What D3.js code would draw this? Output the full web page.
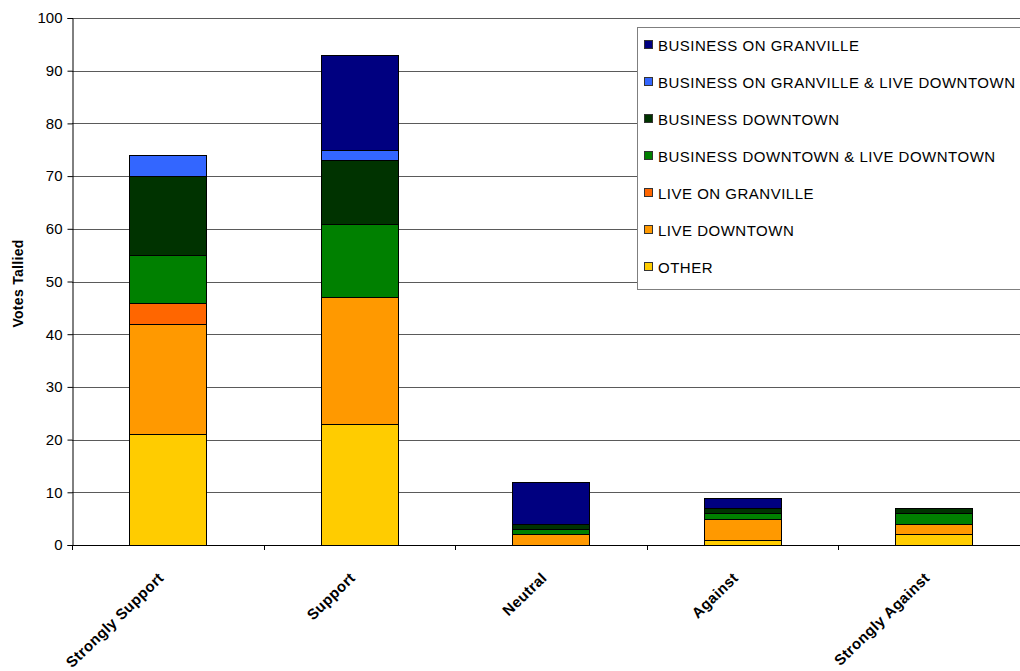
<!DOCTYPE html>
<html>
<head>
<meta charset="utf-8">
<script src="https://cdn.jsdelivr.net/npm/d3@7"></script>
<style>
  html, body { margin: 0; padding: 0; background: #fff; }
  svg { display: block; font-family: "Liberation Sans", Arial, sans-serif; }
</style>
</head>
<body>
<svg id="chart" width="1020" height="671"></svg>
<script>
// Opinion categories along the x axis
const categories = ["Strongly Support", "Support", "Neutral", "Against", "Strongly Against"];

// Respondent groups, stacked bottom to top
const seriesNames = [
  "OTHER",
  "LIVE DOWNTOWN",
  "LIVE ON GRANVILLE",
  "BUSINESS DOWNTOWN & LIVE DOWNTOWN",
  "BUSINESS DOWNTOWN",
  "BUSINESS ON GRANVILLE & LIVE DOWNTOWN",
  "BUSINESS ON GRANVILLE"
];

// Votes per group, one value per category
const other              = [21, 23, 0, 1, 2];
const liveDowntown       = [21, 24, 2, 4, 2];
const liveOnGranville    = [4, 0, 0, 0, 0];
const bizDowntownLive    = [9, 14, 1, 1, 2];
const bizDowntown        = [15, 12, 1, 1, 1];
const bizGranvilleLive   = [4, 2, 0, 0, 0];
const bizGranville       = [0, 18, 8, 2, 0];

const seriesValues = [other, liveDowntown, liveOnGranville, bizDowntownLive, bizDowntown, bizGranvilleLive, bizGranville];

const colors = ["#FFCC00", "#FF9900", "#FF6600", "#008000", "#003300", "#3366FF", "#000080"];

const yTicks = [0, 10, 20, 30, 40, 50, 60, 70, 80, 90, 100];

// Legend lists the groups top of stack first
const legendOrder = [6, 5, 4, 3, 2, 1, 0];

const svg = d3.select("#chart");

const plotLeft = 72, plotTop = 18, plotBottom = 545;
const step = 191.5;

const x = d3.scaleBand()
  .domain(categories)
  .range([plotLeft, plotLeft + step * categories.length])
  .paddingInner(0.6)
  .paddingOuter(0.3);

const y = d3.scaleLinear().domain([0, 100]).range([plotBottom, plotTop]);

// Build stack rows
const rows = categories.map((c, i) => {
  const r = { category: c };
  seriesNames.forEach((s, j) => { r[s] = seriesValues[j][i]; });
  return r;
});
const stacked = d3.stack().keys(seriesNames)(rows);

// Horizontal gridlines
svg.append("g")
  .selectAll("line")
  .data(yTicks.filter(t => t > 0))
  .join("line")
  .attr("x1", plotLeft)
  .attr("x2", 1020)
  .attr("y1", d => Math.round(y(d)) + 0.5)
  .attr("y2", d => Math.round(y(d)) + 0.5)
  .attr("stroke", "#5a5a5a")
  .attr("stroke-width", 1);

// Stacked bars
svg.append("g")
  .selectAll("g")
  .data(stacked)
  .join("g")
  .attr("fill", (d, i) => colors[i])
  .selectAll("rect")
  .data(d => d.filter(p => p[1] - p[0] > 0))
  .join("rect")
  .attr("x", d => Math.round(x(d.data.category)) + 0.5)
  .attr("width", Math.round(x.bandwidth()))
  .attr("y", d => Math.round(y(d[1])) + 0.5)
  .attr("height", d => Math.round(y(d[0])) - Math.round(y(d[1])))
  .attr("stroke", "#000")
  .attr("stroke-width", 1);

// Y axis
const yAxis = d3.axisLeft(y)
  .tickValues(yTicks)
  .tickSize(5)
  .tickPadding(5);
const gy = svg.append("g")
  .attr("transform", `translate(${plotLeft + 0.5},0)`)
  .call(yAxis);
gy.select(".domain").attr("stroke", "#000");
gy.selectAll(".tick line").attr("stroke", "#000");
gy.selectAll(".tick text")
  .attr("font-size", 15)
  .attr("font-family", "Liberation Sans, Arial, sans-serif")
  .attr("fill", "#000");

// X axis baseline with category boundary ticks
svg.append("line")
  .attr("x1", plotLeft).attr("x2", 1020)
  .attr("y1", plotBottom + 0.5).attr("y2", plotBottom + 0.5)
  .attr("stroke", "#000");
svg.append("g")
  .selectAll("line")
  .data(d3.range(categories.length + 1))
  .join("line")
  .attr("x1", i => Math.round(plotLeft + i * step) + 0.5)
  .attr("x2", i => Math.round(plotLeft + i * step) + 0.5)
  .attr("y1", plotBottom)
  .attr("y2", plotBottom + 5)
  .attr("stroke", "#000");

// Rotated category labels
svg.append("g")
  .selectAll("text")
  .data(categories)
  .join("text")
  .attr("transform", d => `translate(${x(d) + x.bandwidth() / 2 - 3},${plotBottom + 34}) rotate(-44)`)
  .attr("text-anchor", "end")
  .attr("font-size", 15)
  .attr("letter-spacing", 0.4)
  .attr("font-weight", "bold")
  .attr("fill", "#000")
  .text(d => d);

// Y axis title
svg.append("text")
  .attr("transform", `translate(23,${(plotTop + plotBottom) / 2 + 2}) rotate(-90)`)
  .attr("text-anchor", "middle")
  .attr("font-size", 14)
  .attr("letter-spacing", 0.3)
  .attr("font-weight", "bold")
  .attr("fill", "#000")
  .text("Votes Tallied");

// Legend
const legend = svg.append("g");
legend.append("rect")
  .attr("x", 637.5).attr("y", 27.5)
  .attr("width", 420).attr("height", 262)
  .attr("fill", "#fff")
  .attr("stroke", "#7f7f7f");

const items = legend.selectAll("g.item")
  .data(legendOrder)
  .join("g")
  .attr("class", "item")
  .attr("transform", (d, i) => `translate(0,${45 + i * 37})`);
items.append("rect")
  .attr("x", 644.5).attr("y", -4.5)
  .attr("width", 8).attr("height", 8)
  .attr("fill", d => colors[d])
  .attr("stroke", "#333");
items.append("text")
  .attr("x", 658)
  .attr("y", 5.5)
  .attr("font-size", 15)
  .attr("letter-spacing", 0.5)
  .attr("fill", "#000")
  .text(d => seriesNames[d]);
</script>
</body>
</html>
